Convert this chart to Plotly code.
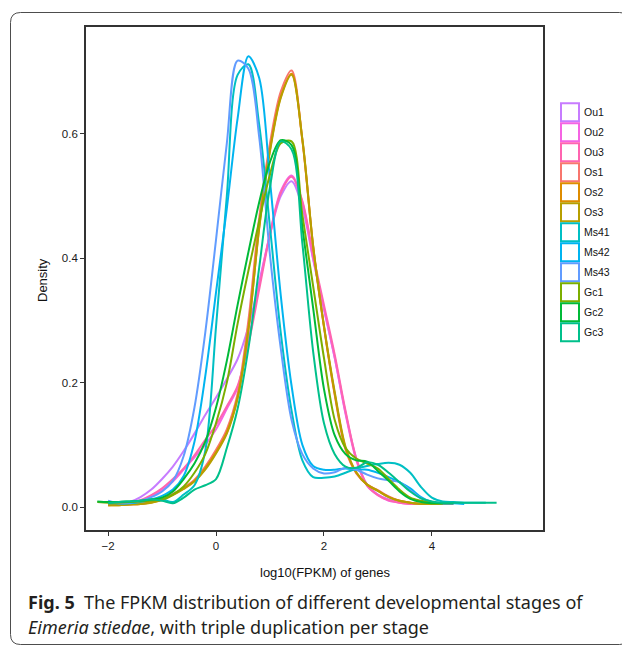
import plotly.graph_objects as go

# ---------------- data ----------------
x_grid = [-2.2, -2.0, -1.8, -1.6, -1.4, -1.2, -1.0, -0.8, -0.6, -0.4, -0.2, 0.0,
          0.2, 0.4, 0.6, 0.8, 1.0, 1.2, 1.4, 1.6, 1.8, 2.0, 2.2, 2.4, 2.6, 2.8,
          3.0, 3.2, 3.4, 3.6, 3.8, 4.0, 4.2, 4.4, 4.6, 4.8, 5.0, 5.2]

series_names = ["Ou1", "Ou2", "Ou3", "Os1", "Os2", "Os3",
                "Ms41", "Ms42", "Ms43", "Gc1", "Gc2", "Gc3"]
series_colors = ["#C77CFF", "#F564E3", "#FF64B0", "#F8766D", "#DE8C00", "#B79F00",
                 "#00BFC4", "#00B4F0", "#619CFF", "#7CAE00", "#00BA38", "#00C08B"]

ou1 = [None, 0.004, 0.005, 0.008, 0.016, 0.028, 0.045, 0.065, 0.090, 0.118, 0.148, 0.176,
       0.206, 0.238, 0.290, 0.362, 0.438, 0.500, 0.524, 0.482, 0.398, 0.318, 0.240, 0.152,
       0.078, 0.036, 0.020, 0.012, 0.008, 0.006, 0.005, 0.005, 0.005, 0.005, None, None, None, None]
ou2 = [None, 0.004, 0.005, 0.006, 0.010, 0.017, 0.027, 0.041, 0.060, 0.080, 0.100, 0.125,
       0.158, 0.192, 0.268, 0.356, 0.440, 0.508, 0.533, 0.490, 0.400, 0.320, 0.240, 0.150,
       0.075, 0.034, 0.019, 0.010, 0.007, 0.005, 0.005, 0.005, 0.005, None, None, None, None, None]
ou3 = [None, 0.005, 0.005, 0.007, 0.011, 0.019, 0.030, 0.045, 0.062, 0.083, 0.108, 0.132,
       0.162, 0.195, 0.262, 0.350, 0.438, 0.505, 0.531, 0.492, 0.405, 0.325, 0.245, 0.155,
       0.078, 0.035, 0.019, 0.011, 0.007, 0.005, 0.005, 0.005, 0.005, None, None, None, None, None]
os1 = [None, 0.003, 0.004, 0.004, 0.005, 0.008, 0.013, 0.021, 0.031, 0.044, 0.065, 0.092,
       0.125, 0.182, 0.300, 0.465, 0.585, 0.668, 0.702, 0.590, 0.420, 0.290, 0.180, 0.092,
       0.054, 0.036, 0.027, 0.017, 0.010, 0.007, 0.005, 0.005, 0.005, None, None, None, None, None]
os2 = [None, 0.003, 0.003, 0.004, 0.005, 0.007, 0.012, 0.020, 0.030, 0.042, 0.062, 0.088,
       0.120, 0.176, 0.285, 0.450, 0.575, 0.660, 0.697, 0.590, 0.418, 0.290, 0.182, 0.095,
       0.055, 0.036, 0.026, 0.016, 0.010, 0.007, 0.005, 0.005, 0.005, None, None, None, None, None]
os3 = [None, 0.003, 0.003, 0.004, 0.005, 0.007, 0.011, 0.019, 0.029, 0.041, 0.060, 0.086,
       0.118, 0.175, 0.285, 0.448, 0.572, 0.658, 0.695, 0.592, 0.420, 0.292, 0.185, 0.097,
       0.056, 0.036, 0.026, 0.016, 0.010, 0.007, 0.005, 0.005, 0.005, None, None, None, None, None]
ms41 = [None, 0.006, 0.006, 0.007, 0.009, 0.012, 0.012, 0.008, 0.020, 0.035, 0.090, 0.290,
        0.500, 0.695, 0.712, 0.615, 0.450, 0.280, 0.155, 0.075, 0.048, 0.047, 0.049, 0.055,
        0.062, 0.066, 0.069, 0.071, 0.068, 0.055, 0.032, 0.015, 0.009, 0.008, 0.007, 0.007, 0.007, None]
ms42 = [None, 0.009, 0.006, 0.006, 0.008, 0.012, 0.018, 0.028, 0.050, 0.105, 0.210, 0.345,
        0.480, 0.625, 0.725, 0.690, 0.525, 0.340, 0.195, 0.100, 0.066, 0.060, 0.060, 0.062,
        0.060, 0.060, 0.055, 0.048, 0.040, 0.030, 0.016, 0.008, 0.006, 0.006, 0.005, None, None, None]
ms43 = [None, 0.010, 0.006, 0.007, 0.010, 0.016, 0.025, 0.042, 0.082, 0.160, 0.280, 0.430,
        0.585, 0.718, 0.705, 0.595, 0.405, 0.255, 0.140, 0.085, 0.062, 0.054, 0.056, 0.063,
        0.060, 0.052, 0.046, 0.043, 0.040, 0.027, 0.014, 0.008, 0.006, 0.005, None, None, None, None]
gc1 = [0.008, 0.007, 0.007, 0.008, 0.009, 0.010, 0.012, 0.020, 0.033, 0.055, 0.085, 0.135,
       0.200, 0.295, 0.380, 0.460, 0.535, 0.585, 0.588, 0.470, 0.355, 0.240, 0.140, 0.095,
       0.078, 0.070, 0.062, 0.045, 0.028, 0.015, 0.010, 0.007, 0.006, 0.006, None, None, None, None]
gc2 = [0.009, 0.008, 0.008, 0.009, 0.010, 0.012, 0.015, 0.025, 0.045, 0.070, 0.105, 0.160,
       0.235, 0.325, 0.410, 0.490, 0.555, 0.590, 0.582, 0.450, 0.320, 0.190, 0.115, 0.085,
       0.075, 0.073, 0.058, 0.042, 0.025, 0.013, 0.008, 0.006, 0.006, 0.006, None, None, None, None]
gc3 = [None, 0.006, 0.008, 0.009, 0.010, 0.012, 0.010, 0.006, 0.015, 0.028, 0.035, 0.045,
       0.095, 0.158, 0.255, 0.385, 0.515, 0.588, 0.575, 0.424, 0.250, 0.135, 0.085, 0.065,
       0.063, 0.072, 0.068, 0.055, 0.040, 0.025, 0.014, 0.009, 0.007, 0.007, 0.007, 0.007, 0.007, 0.007]

series_values = [ou1, ou2, ou3, os1, os2, os3, ms41, ms42, ms43, gc1, gc2, gc3]

x_tick_vals = [-2, 0, 2, 4]
y_tick_vals = [0.0, 0.2, 0.4, 0.6]

x_title = "log10(FPKM) of genes"
y_title = "Density"
caption_line1 = "<b>Fig. 5</b>  The FPKM distribution of different developmental stages of"
caption_line2 = "<i>Eimeria stiedae</i>, with triple duplication per stage"

# ---------------- layout geometry (pixels, in reference-image coordinates) ----------------
W, H = 630, 647
OFF = 8                              # page body margin added by the browser
PL, PR, PT, PB = 86, 543, 27, 530    # plot area edges


def px(x):
    return (x - PL) / (PR - PL)


def py(y):
    return (PB - y) / (PB - PT)


fig = go.Figure()
for name, color, vals in zip(series_names, series_colors, series_values):
    fig.add_trace(go.Scatter(
        x=x_grid, y=vals, mode="lines", name=name, showlegend=False,
        line=dict(color=color, width=2, shape="spline", smoothing=0.9),
        connectgaps=False, hoverinfo="skip"))

axis_font = dict(family="Liberation Sans, Arial, sans-serif", size=11.5, color="#1a1a1a")

fig.update_layout(
    width=W - OFF, height=H - OFF,
    margin=dict(l=PL - OFF, r=W - PR, t=PT - OFF, b=H - PB),
    plot_bgcolor="white", paper_bgcolor="white",
    showlegend=False,
)
fig.update_xaxes(range=[-2.41, 6.06], tickvals=x_tick_vals, tickfont=axis_font,
                 showline=True, mirror=True, linecolor="#333333", linewidth=1.8,
                 ticks="outside", ticklen=4, tickwidth=1, tickcolor="#333333",
                 showgrid=False, zeroline=False)
fig.update_yaxes(range=[-0.037, 0.772], tickvals=y_tick_vals, tickformat=".1f",
                 tickfont=axis_font,
                 showline=True, mirror=True, linecolor="#333333", linewidth=1.8,
                 ticks="outside", ticklen=4, tickwidth=1, tickcolor="#333333",
                 showgrid=False, zeroline=False)

shapes = []
annotations = []

# outer rounded frame
l, t, r, b, rad = 10.5, 12.5, 629.5, 644.5, 10
path = (f"M {px(l + rad)},{py(t)} L {px(r - rad)},{py(t)} "
        f"Q {px(r)},{py(t)} {px(r)},{py(t + rad)} L {px(r)},{py(b - rad)} "
        f"Q {px(r)},{py(b)} {px(r - rad)},{py(b)} L {px(l + rad)},{py(b)} "
        f"Q {px(l)},{py(b)} {px(l)},{py(b - rad)} L {px(l)},{py(t + rad)} "
        f"Q {px(l)},{py(t)} {px(l + rad)},{py(t)} Z")
shapes.append(dict(type="path", xref="paper", yref="paper", path=path,
                   line=dict(color="#4d4d4d", width=1), layer="below"))

# manual legend (square keys like ggplot)
for i, (name, color) in enumerate(zip(series_names, series_colors)):
    cy = 112.3 + 20 * i
    shapes.append(dict(type="rect", xref="paper", yref="paper",
                       x0=px(561), x1=px(579), y0=py(cy - 9), y1=py(cy + 9),
                       line=dict(color=color, width=2), fillcolor="white"))
    annotations.append(dict(text=name, xref="paper", yref="paper",
                            x=px(582), y=py(cy), xanchor="left", yanchor="middle",
                            showarrow=False,
                            font=dict(family="Liberation Sans, Arial, sans-serif",
                                      size=10.5, color="#111111")))

# axis titles
annotations.append(dict(text=y_title, xref="paper", yref="paper", x=px(42), y=py(280),
                        textangle=-90, showarrow=False, xanchor="center", yanchor="middle",
                        font=dict(family="Liberation Sans, Arial, sans-serif", size=13,
                                  color="#111111")))
annotations.append(dict(text=x_title, xref="paper", yref="paper", x=px(325), y=py(572),
                        showarrow=False, xanchor="center", yanchor="middle",
                        font=dict(family="Liberation Sans, Arial, sans-serif", size=13,
                                  color="#111111")))

# caption
cap_font = dict(family="Noto Sans, Open Sans, sans-serif", size=18, color="#231f20")
annotations.append(dict(text=caption_line1, xref="paper", yref="paper", x=px(26), y=py(602),
                        showarrow=False, xanchor="left", yanchor="middle", font=cap_font))
annotations.append(dict(text=caption_line2, xref="paper", yref="paper", x=px(26), y=py(627),
                        showarrow=False, xanchor="left", yanchor="middle", font=cap_font))

fig.update_layout(shapes=shapes, annotations=annotations)
fig.write_html("out.html")
